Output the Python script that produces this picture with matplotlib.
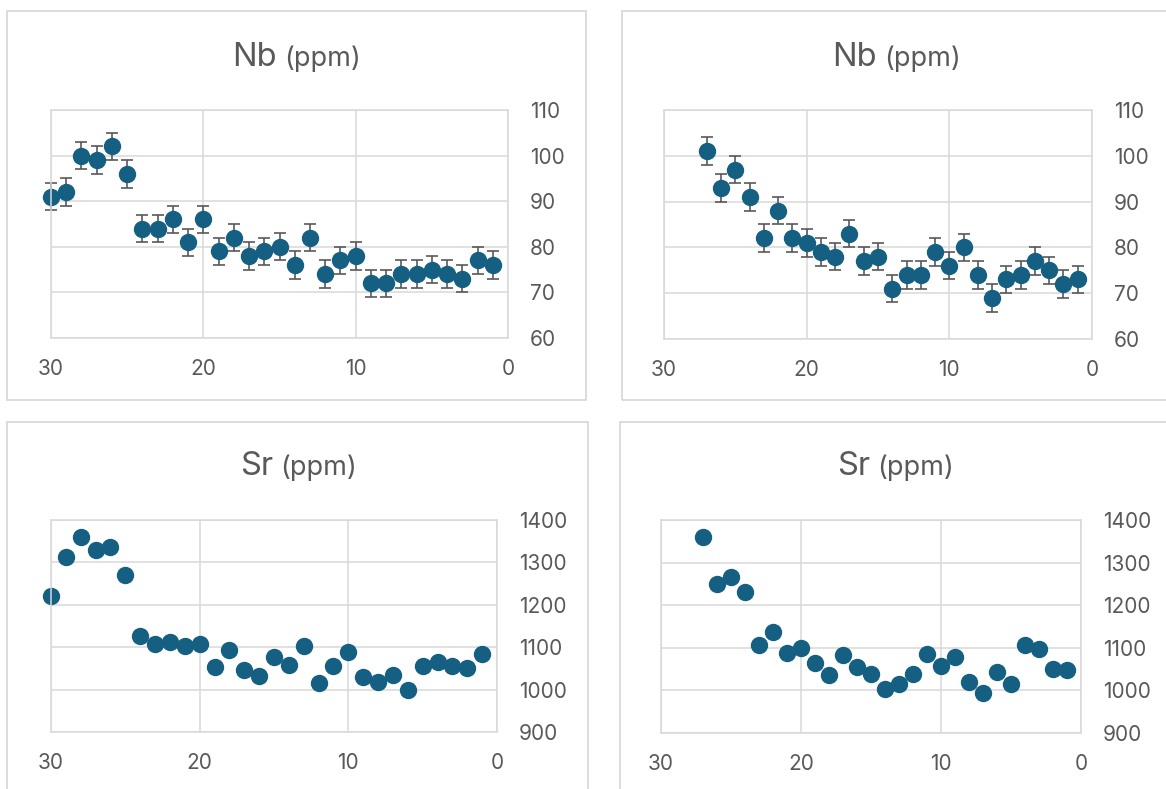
"""
Nb and Sr (ppm) down-section profiles, two sections side by side.
"""

import matplotlib.pyplot as plt
from matplotlib.patches import Rectangle

# ---- data -------------------------------------------------------------
depth_a = [30, 29, 28, 27, 26, 25, 24, 23, 22, 21, 20, 19, 18, 17, 16,
           15, 14, 13, 12, 11, 10, 9, 8, 7, 6, 5, 4, 3, 2, 1]
nb_a = [91, 92, 100, 99, 102, 96, 84, 84, 86, 81, 86, 79, 82, 78, 79,
        80, 76, 82, 74, 77, 78, 72, 72, 74, 74, 75, 74, 73, 77, 76]
sr_a = [1220, 1313, 1361, 1330, 1336, 1271, 1126, 1108, 1112, 1102, 1107,
        1053, 1094, 1047, 1033, 1078, 1057, 1103, 1015, 1056, 1088, 1029,
        1019, 1035, 1000, 1055, 1066, 1055, 1051, 1084]

depth_b = [27, 26, 25, 24, 23, 22, 21, 20, 19, 18, 17, 16, 15, 14,
           13, 12, 11, 10, 9, 8, 7, 6, 5, 4, 3, 2, 1]
nb_b = [101, 93, 97, 91, 82, 88, 82, 81, 79, 78, 83, 77, 78, 71,
        74, 74, 79, 76, 80, 74, 69, 73, 74, 77, 75, 72, 73]
sr_b = [1361, 1249, 1266, 1230, 1106, 1137, 1087, 1099, 1064, 1035, 1084,
        1055, 1038, 1004, 1014, 1038, 1085, 1058, 1078, 1020, 995, 1043,
        1016, 1106, 1098, 1051, 1048]

nb_err = 3

nb_ticks = [60, 70, 80, 90, 100, 110]
sr_ticks = [900, 1000, 1100, 1200, 1300, 1400]
x_ticks = [30, 20, 10, 0]

# ---- style ------------------------------------------------------------
W, H = 1166, 789
DOT = "#156082"
TXT = "#595959"
GRID = "#d9d9d9"
plt.rcParams["font.family"] = ["Inter", "DejaVu Sans"]


def px_axes(fig, x0, x1, y0, y1):
    return fig.add_axes([x0 / W, 1 - y1 / H, (x1 - x0) / W, (y1 - y0) / H])


def panel_box(fig, x0, x1, y0, y1):
    fig.patches.append(Rectangle((x0 / W, 1 - y1 / H), (x1 - x0) / W, (y1 - y0) / H,
                                 transform=fig.transFigure, fill=False,
                                 edgecolor=GRID, linewidth=1.3, zorder=0))


def title(fig, el, x_split, y_base):
    fig.text(x_split / W, 1 - y_base / H, el, ha="right", va="baseline",
             fontsize=23.5, color=TXT)
    fig.text((x_split + 7) / W, 1 - y_base / H, "(ppm)", ha="left", va="baseline",
             fontsize=19.5, color=TXT)


def style(ax, yticks):
    ax.set_xlim(30, 0)
    ax.set_ylim(yticks[0], yticks[-1])
    ax.set_xticks(x_ticks)
    ax.set_yticks(yticks)
    ax.yaxis.tick_right()
    ax.tick_params(length=0, labelsize=15, labelcolor=TXT)
    ax.tick_params(axis="y", pad=16)
    ax.tick_params(axis="x", pad=15)
    ax.grid(True, color=GRID, linewidth=1.1)
    ax.set_axisbelow(True)
    for s in ax.spines.values():
        s.set_color(GRID)
        s.set_linewidth(1.1)


fig = plt.figure(figsize=(W / 100, H / 100), dpi=100)

panel_box(fig, 7, 586, 11, 400)
panel_box(fig, 622, 1180, 11, 400)
panel_box(fig, 7, 588, 422, 800)
panel_box(fig, 620, 1180, 422, 800)

ax1 = px_axes(fig, 51, 508, 110, 338)
marks, caps, bars = ax1.errorbar(depth_a, nb_a, yerr=nb_err, fmt="o", color=DOT,
                                 markersize=11.5, ecolor=TXT, elinewidth=1.2,
                                 capsize=4.5, capthick=1.2)
for art in [marks, *caps, *bars]:
    art.set_clip_on(False)
style(ax1, nb_ticks)
title(fig, "Nb", 277, 66)

ax2 = px_axes(fig, 664, 1092, 110, 339)
marks, caps, bars = ax2.errorbar(depth_b, nb_b, yerr=nb_err, fmt="o", color=DOT,
                                 markersize=11.5, ecolor=TXT, elinewidth=1.2,
                                 capsize=4.5, capthick=1.2)
for art in [marks, *caps, *bars]:
    art.set_clip_on(False)
style(ax2, nb_ticks)
title(fig, "Nb", 877, 66)

ax3 = px_axes(fig, 51, 497, 520, 732)
ax3.plot(depth_a, sr_a, "o", color=DOT, markersize=11.5, clip_on=False)
style(ax3, sr_ticks)
title(fig, "Sr", 273, 475)

ax4 = px_axes(fig, 661, 1081, 520, 733)
ax4.plot(depth_b, sr_b, "o", color=DOT, markersize=11.5, clip_on=False)
style(ax4, sr_ticks)
title(fig, "Sr", 870, 475)

fig.savefig("out.png", dpi=100)
